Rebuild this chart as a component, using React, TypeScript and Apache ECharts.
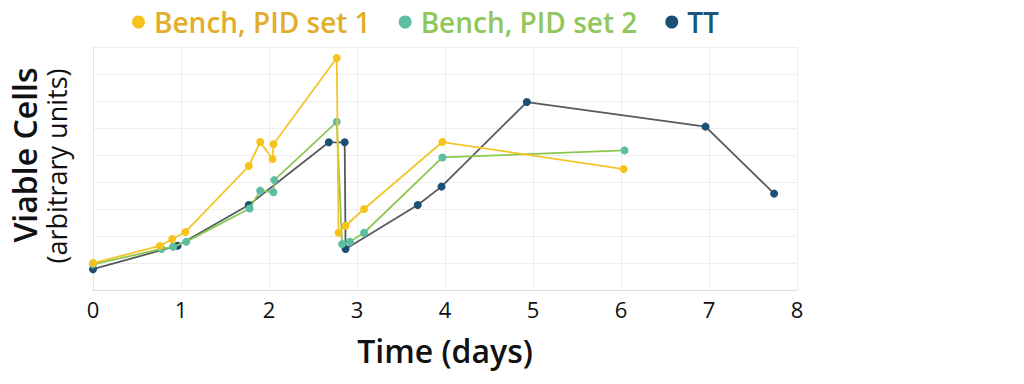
import React, { useEffect, useRef } from "react";
import * as echarts from "echarts";

const seriesNames = ["Bench, PID set 1", "Bench, PID set 2", "TT"];
const xTicks = [0, 1, 2, 3, 4, 5, 6, 7, 8];

const bench1: [number, number][] = [
  [0, 1.0], [0.76, 1.63], [0.9, 1.89], [1.05, 2.15], [1.77, 4.59], [1.9, 5.48],
  [2.04, 4.85], [2.05, 5.4], [2.77, 8.59], [2.79, 2.12], [2.87, 2.38], [3.08, 3.0],
  [3.97, 5.48], [6.03, 4.48],
];
const bench2: [number, number][] = [
  [0, 0.95], [0.78, 1.52], [0.91, 1.6], [1.06, 1.79], [1.78, 3.02], [1.9, 3.68],
  [2.05, 3.62], [2.06, 4.07], [2.77, 6.23], [2.83, 1.7], [2.92, 1.79], [3.08, 2.12],
  [3.97, 4.91], [6.04, 5.17],
];
const tt: [number, number][] = [
  [0, 0.77], [0.96, 1.64], [1.77, 3.15], [2.68, 5.47], [2.86, 5.47], [2.87, 1.52],
  [3.69, 3.15], [3.96, 3.83], [4.93, 6.96], [6.96, 6.05], [7.74, 3.57],
];

const markerColors = ["#f6c21c", "#5cbfa3", "#1c4f74"];
const lineColors = ["#f2c62a", "#8cc850", "#555a5e"];
const legendTextColors = ["#e2ae2a", "#90c75c", "#1c5577"];

export default function App() {
  const ref = useRef<HTMLDivElement>(null);
  useEffect(() => {
    if (!ref.current) return;
    const chart = echarts.init(ref.current, null, { renderer: "svg" });
    const datasets = [bench1, bench2, tt];
    chart.setOption({
      animation: false,
      backgroundColor: "#ffffff",
      textStyle: { fontFamily: "Open Sans" },
      legend: {
        left: 127,
        top: 3,
        icon: "circle",
        itemWidth: 13,
        itemHeight: 13,
        itemGap: 28,
        textStyle: { fontSize: 28, fontWeight: 600, fontFamily: "Open Sans", padding: [0, 0, 0, 4] },
        data: seriesNames.map((n, i) => ({
          name: n,
          itemStyle: { color: markerColors[i] },
          textStyle: { color: legendTextColors[i] },
        })),
      },
      grid: { left: 93, right: 227, top: 47, bottom: 94, containLabel: false },
      xAxis: {
        type: "value",
        min: 0,
        max: 8,
        interval: 1,
        name: "Time (days)",
        nameLocation: "middle",
        nameGap: 44,
        nameTextStyle: { fontSize: 32, fontWeight: 600, color: "#111", fontFamily: "Open Sans" },
        axisLine: { show: true, lineStyle: { color: "#dedede" } },
        axisTick: { show: false },
        axisLabel: {
          fontSize: 22,
          color: "#111",
          margin: 8,
          formatter: (v: number) => (xTicks.includes(v) ? String(v) : ""),
        },
        splitLine: { show: true, lineStyle: { color: "#eceef0" } },
      },
      yAxis: {
        type: "value",
        min: 0,
        max: 9,
        interval: 1,
        axisLine: { show: true, lineStyle: { color: "#e3e3e3" } },
        axisTick: { show: false },
        axisLabel: { show: false },
        splitLine: { show: true, lineStyle: { color: "#eceef0" } },
      },
      graphic: [
        {
          type: "text",
          x: 24,
          y: 155,
          rotation: Math.PI / 2,
          style: {
            text: "Viable Cells",
            font: "600 32px 'Open Sans'",
            fill: "#111",
            textAlign: "center",
            textVerticalAlign: "middle",
          },
        },
        {
          type: "text",
          x: 56,
          y: 166,
          rotation: Math.PI / 2,
          style: {
            text: "(arbitrary units)",
            font: "400 27px 'Open Sans'",
            fill: "#111",
            textAlign: "center",
            textVerticalAlign: "middle",
          },
        },
      ],
      series: seriesNames.map((n, i) => ({
        name: n,
        type: "line",
        data: datasets[i],
        symbol: "circle",
        symbolSize: 8,
        showSymbol: true,
        itemStyle: { color: markerColors[i] },
        lineStyle: { color: lineColors[i], width: 1.8 },
        z: 3 - i,
      })),
    });
    return () => chart.dispose();
  }, []);
  return <div ref={ref} style={{ width: 1024, height: 384, position: "absolute", left: 0, top: 0 }} />;
}
